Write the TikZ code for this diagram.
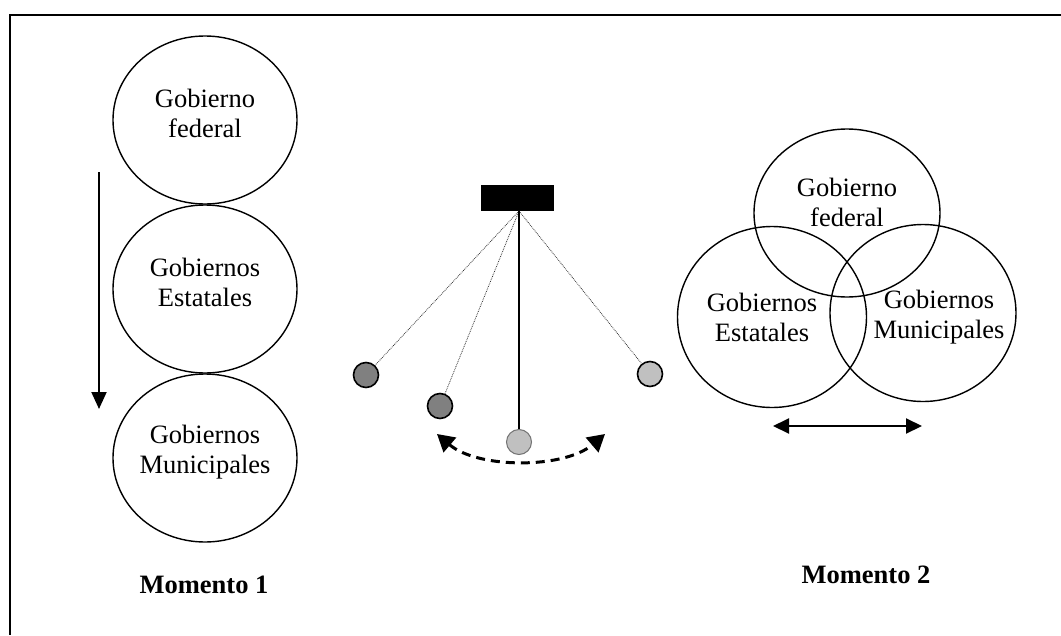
\documentclass[tikz,border=0pt]{standalone}
\usepackage{fontspec}
\setmainfont{Liberation Serif}
\usetikzlibrary{shapes.geometric,arrows.meta}
\definecolor{balldark}{HTML}{808080}
\definecolor{balllight}{HTML}{C0C0C0}
\begin{document}
\begin{tikzpicture}[x=1pt,y=-1pt,
  ell/.style={draw, ellipse, line width=1.4pt, inner sep=0pt, minimum width=184pt, minimum height=168pt},
  lbl/.style={align=center, inner sep=0pt, font=\fontsize{26.5}{30}\selectfont},
  mom/.style={inner sep=0pt, font=\fontsize{26.5}{30}\selectfont\bfseries},
  ball/.style={circle, draw, line width=1.6pt, inner sep=0pt, minimum size=25pt},
  thread/.style={densely dotted, line width=0.8pt, draw=black!80},
  tipA/.style={-{Triangle[length=17pt,width=15pt]}},
]
\useasboundingbox (0,0) rectangle (1061,635);
\fill[white] (0,0) rectangle (1061,635);
% frame
\draw[line width=1.5pt] (1061,15) -- (10,15) -- (10,635);

% Momento 1
\node[ell] (fed1) at (205,120) {};
\node[ell] (est1) at (205,289) {};
\node[ell] (mun1) at (205,458) {};
\node[lbl] (tfed1) at (205,113) {Gobierno\\federal};
\node[lbl] (test1) at (205,282) {Gobiernos\\Estatales};
\node[lbl] (tmun1) at (205,452) {Gobiernos\\Municipales};
\coordinate (arrS) at (99,172);
\coordinate (arrE) at (99,409);
\draw[line width=2pt, tipA] (arrS) -- (arrE);
\node[mom] (m1) at (204,585) {Momento 1};

% pendulum
\node[fill=black, minimum width=73pt, minimum height=26pt, inner sep=0pt] (bar) at (517.5,198) {};
\coordinate (piv) at (519,211);
\node[ball, fill=balldark] (b1) at (366,375) {};
\node[ball, fill=balldark] (b2) at (440,406) {};
\node[ball, fill=balllight, draw=black!55, line width=1pt] (b3) at (519,442) {};
\node[ball, fill=balllight] (b4) at (650,374) {};
\draw[thread] (piv) -- (b1);
\draw[thread] (piv) -- (b2);
\draw[thread] (piv) -- (b4);
\draw[line width=1.2pt] (piv) -- (b3);
\coordinate (swL) at (437,434);
\coordinate (swR) at (605,434);
\draw[line width=3pt, dash pattern=on 9pt off 6pt,
  {Triangle[length=17pt,width=19pt]}-{Triangle[length=17pt,width=19pt]}]
  (swL) .. controls (478,469) and (564,469) .. (swR);

% Momento 2
\node[ell, minimum width=186pt, minimum height=168pt] (fed2) at (847,213) {};
\node[ell, minimum width=189pt, minimum height=181pt] (est2) at (772,317) {};
\node[ell, minimum width=186pt, minimum height=177pt] (mun2) at (923,313) {};
\node[lbl] (tfed2) at (847,202) {Gobierno\\federal};
\node[lbl] (test2) at (762,317) {Gobiernos\\Estatales};
\node[lbl] (tmun2) at (939,317) {Gobiernos\\Municipales};
\coordinate (hL) at (773,426);
\coordinate (hR) at (922,426);
\draw[line width=2pt, {Triangle[length=16pt,width=15pt]}-{Triangle[length=16pt,width=15pt]}] (hL) -- (hR);
\node[mom] (m2) at (866,575) {Momento 2};
\end{tikzpicture}
\end{document}
